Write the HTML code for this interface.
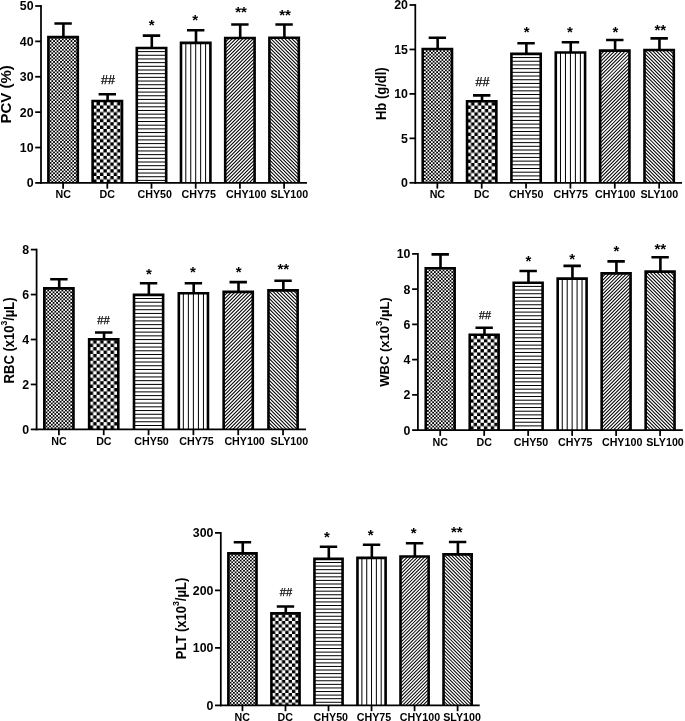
<!DOCTYPE html>
<html><head><meta charset="utf-8"><style>
html,body{margin:0;padding:0;background:#fff;width:685px;height:721px;overflow:hidden}
svg{display:block;will-change:transform}
svg,text,tspan{font-family:"Liberation Sans", sans-serif;fill:#000}
</style></head><body>
<svg width="685" height="721" viewBox="0 0 685 721"><defs><pattern id="p00" patternUnits="userSpaceOnUse" width="3.48" height="3.48" patternTransform="translate(49.7,38.45)"><rect width="3.48" height="3.48" fill="#fff"/><rect x="1.74" width="1.74" height="1.74" fill="#000"/><rect y="1.74" width="1.74" height="1.74" fill="#000"/></pattern>
<pattern id="p01" patternUnits="userSpaceOnUse" width="6.86" height="6.72" patternTransform="translate(93.1,102.05)"><rect width="6.86" height="6.72" fill="#fff"/><rect x="3.43" width="3.43" height="3.36" fill="#000"/><rect y="3.36" width="3.43" height="3.36" fill="#000"/></pattern>
<clipPath id="c04"><rect x="225.2" y="37.95" width="29.4" height="144.95"/></clipPath>
<clipPath id="c05"><rect x="269.4" y="37.75" width="29.4" height="145.15"/></clipPath>
<pattern id="p10" patternUnits="userSpaceOnUse" width="3.5" height="3.5" patternTransform="translate(424,50.25)"><rect width="3.5" height="3.5" fill="#fff"/><rect x="1.75" width="1.75" height="1.75" fill="#000"/><rect y="1.75" width="1.75" height="1.75" fill="#000"/></pattern>
<pattern id="p11" patternUnits="userSpaceOnUse" width="6.89" height="6.75" patternTransform="translate(467.56,102.2)"><rect width="6.89" height="6.75" fill="#fff"/><rect x="3.45" width="3.45" height="3.38" fill="#000"/><rect y="3.38" width="3.45" height="3.38" fill="#000"/></pattern>
<clipPath id="c14"><rect x="600.14" y="50.65" width="29.3" height="132.15"/></clipPath>
<clipPath id="c15"><rect x="644.5" y="49.95" width="29.3" height="132.85"/></clipPath>
<pattern id="p20" patternUnits="userSpaceOnUse" width="3.53" height="3.53" patternTransform="translate(45.62,289.65)"><rect width="3.53" height="3.53" fill="#fff"/><rect x="1.77" width="1.77" height="1.77" fill="#000"/><rect y="1.77" width="1.77" height="1.77" fill="#000"/></pattern>
<pattern id="p21" patternUnits="userSpaceOnUse" width="6.96" height="6.82" patternTransform="translate(89.65,340.3)"><rect width="6.96" height="6.82" fill="#fff"/><rect x="3.48" width="3.48" height="3.41" fill="#000"/><rect y="3.41" width="3.48" height="3.41" fill="#000"/></pattern>
<clipPath id="c24"><rect x="223.65" y="291.85" width="29.15" height="137.55"/></clipPath>
<clipPath id="c25"><rect x="268.47" y="290.35" width="29.15" height="139.05"/></clipPath>
<pattern id="p30" patternUnits="userSpaceOnUse" width="3.47" height="3.47" patternTransform="translate(427.05,269.5)"><rect width="3.47" height="3.47" fill="#fff"/><rect x="1.74" width="1.74" height="1.74" fill="#000"/><rect y="1.74" width="1.74" height="1.74" fill="#000"/></pattern>
<pattern id="p31" patternUnits="userSpaceOnUse" width="6.84" height="6.7" patternTransform="translate(470.23,335.7)"><rect width="6.84" height="6.7" fill="#fff"/><rect x="3.42" width="3.42" height="3.35" fill="#000"/><rect y="3.35" width="3.42" height="3.35" fill="#000"/></pattern>
<clipPath id="c34"><rect x="601.67" y="273.35" width="28.9" height="156.75"/></clipPath>
<clipPath id="c35"><rect x="645.65" y="271.65" width="28.9" height="158.45"/></clipPath>
<pattern id="p40" patternUnits="userSpaceOnUse" width="3.39" height="3.39" patternTransform="translate(229.67,554.65)"><rect width="3.39" height="3.39" fill="#fff"/><rect x="1.69" width="1.69" height="1.69" fill="#000"/><rect y="1.69" width="1.69" height="1.69" fill="#000"/></pattern>
<pattern id="p41" patternUnits="userSpaceOnUse" width="6.68" height="6.55" patternTransform="translate(271.91,614.4)"><rect width="6.68" height="6.55" fill="#fff"/><rect x="3.34" width="3.34" height="3.27" fill="#000"/><rect y="3.27" width="3.34" height="3.27" fill="#000"/></pattern>
<clipPath id="c44"><rect x="400.5" y="556.45" width="28.15" height="148.95"/></clipPath>
<clipPath id="c45"><rect x="443.53" y="554.35" width="28.15" height="151.05"/></clipPath></defs>
<g><path d="M63.4 36.85V23.5M54.4 23.5H71.8" stroke="#000" stroke-width="2.6"/><rect x="48.4" y="37.15" width="29.4" height="145.75" fill="url(#p00)"/><path d="M48.4 182.9V37.15H77.8V182.9" fill="none" stroke="#000" stroke-width="2.6"/><line x1="63.1" y1="182.9" x2="63.1" y2="188.7" stroke="#000" stroke-width="1.75"/><text x="63.25" y="198.2" text-anchor="middle" font-size="10.7" font-weight="bold">NC</text><path d="M107.6 100.75V94.2M98.6 94.2H116" stroke="#000" stroke-width="2.6"/><rect x="92.6" y="101.05" width="29.4" height="81.85" fill="url(#p01)"/><path d="M92.6 182.9V101.05H122V182.9" fill="none" stroke="#000" stroke-width="2.6"/><text x="108" y="84.4" text-anchor="middle" font-size="12.5" stroke="#000" stroke-width="0.25">##</text><line x1="107.3" y1="182.9" x2="107.3" y2="188.7" stroke="#000" stroke-width="1.75"/><text x="107.3" y="198.2" text-anchor="middle" font-size="10.7" font-weight="bold">DC</text><path d="M151.8 47.65V35.6M142.8 35.6H160.2" stroke="#000" stroke-width="2.6"/><rect x="136.8" y="47.95" width="29.4" height="134.95" fill="#fff"/><path d="M136.5 51.6H166.5M136.5 55.28H166.5M136.5 58.96H166.5M136.5 62.64H166.5M136.5 66.32H166.5M136.5 70H166.5M136.5 73.68H166.5M136.5 77.36H166.5M136.5 81.04H166.5M136.5 84.72H166.5M136.5 88.4H166.5M136.5 92.08H166.5M136.5 95.76H166.5M136.5 99.44H166.5M136.5 103.12H166.5M136.5 106.8H166.5M136.5 110.48H166.5M136.5 114.16H166.5M136.5 117.84H166.5M136.5 121.52H166.5M136.5 125.2H166.5M136.5 128.88H166.5M136.5 132.56H166.5M136.5 136.24H166.5M136.5 139.92H166.5M136.5 143.6H166.5M136.5 147.28H166.5M136.5 150.96H166.5M136.5 154.64H166.5M136.5 158.32H166.5M136.5 162H166.5M136.5 165.68H166.5M136.5 169.36H166.5M136.5 173.04H166.5M136.5 176.72H166.5M136.5 180.4H166.5" stroke="#000" stroke-width="1.0" fill="none"/><path d="M136.8 182.9V47.95H166.2V182.9" fill="none" stroke="#000" stroke-width="2.6"/><text x="151.65" y="29.7" text-anchor="middle" font-size="15" font-weight="bold">*</text><line x1="151.5" y1="182.9" x2="151.5" y2="188.7" stroke="#000" stroke-width="1.75"/><text x="154.75" y="198.2" text-anchor="middle" font-size="10.7" font-weight="bold">CHY50</text><path d="M196 42.55V30.2M187 30.2H204.4" stroke="#000" stroke-width="2.6"/><rect x="181" y="42.85" width="29.4" height="140.05" fill="#fff"/><path d="M185.8 42.55V182.9M190.75 42.55V182.9M195.7 42.55V182.9M200.65 42.55V182.9M205.6 42.55V182.9" stroke="#000" stroke-width="1.0" fill="none"/><path d="M181 182.9V42.85H210.4V182.9" fill="none" stroke="#000" stroke-width="2.6"/><text x="195.05" y="25.2" text-anchor="middle" font-size="15" font-weight="bold">*</text><line x1="195.7" y1="182.9" x2="195.7" y2="188.7" stroke="#000" stroke-width="1.75"/><text x="198.7" y="198.2" text-anchor="middle" font-size="10.7" font-weight="bold">CHY75</text><path d="M240.2 37.65V24.5M231.2 24.5H248.6" stroke="#000" stroke-width="2.6"/><rect x="225.2" y="37.95" width="29.4" height="144.95" fill="#fff"/><path clip-path="url(#c04)" d="M223.9 36.65L255.9 4.65M223.9 40.15L255.9 8.15M223.9 43.65L255.9 11.65M223.9 47.15L255.9 15.15M223.9 50.65L255.9 18.65M223.9 54.15L255.9 22.15M223.9 57.65L255.9 25.65M223.9 61.15L255.9 29.15M223.9 64.65L255.9 32.65M223.9 68.15L255.9 36.15M223.9 71.65L255.9 39.65M223.9 75.15L255.9 43.15M223.9 78.65L255.9 46.65M223.9 82.15L255.9 50.15M223.9 85.65L255.9 53.65M223.9 89.15L255.9 57.15M223.9 92.65L255.9 60.65M223.9 96.15L255.9 64.15M223.9 99.65L255.9 67.65M223.9 103.15L255.9 71.15M223.9 106.65L255.9 74.65M223.9 110.15L255.9 78.15M223.9 113.65L255.9 81.65M223.9 117.15L255.9 85.15M223.9 120.65L255.9 88.65M223.9 124.15L255.9 92.15M223.9 127.65L255.9 95.65M223.9 131.15L255.9 99.15M223.9 134.65L255.9 102.65M223.9 138.15L255.9 106.15M223.9 141.65L255.9 109.65M223.9 145.15L255.9 113.15M223.9 148.65L255.9 116.65M223.9 152.15L255.9 120.15M223.9 155.65L255.9 123.65M223.9 159.15L255.9 127.15M223.9 162.65L255.9 130.65M223.9 166.15L255.9 134.15M223.9 169.65L255.9 137.65M223.9 173.15L255.9 141.15M223.9 176.65L255.9 144.65M223.9 180.15L255.9 148.15M223.9 183.65L255.9 151.65M223.9 187.15L255.9 155.15M223.9 190.65L255.9 158.65M223.9 194.15L255.9 162.15M223.9 197.65L255.9 165.65M223.9 201.15L255.9 169.15M223.9 204.65L255.9 172.65M223.9 208.15L255.9 176.15M223.9 211.65L255.9 179.65M223.9 215.15L255.9 183.15" stroke="#000" stroke-width="1.04" fill="none"/><path d="M225.2 182.9V37.95H254.6V182.9" fill="none" stroke="#000" stroke-width="2.6"/><text x="241" y="17.1" text-anchor="middle" font-size="15" font-weight="bold">**</text><line x1="239.9" y1="182.9" x2="239.9" y2="188.7" stroke="#000" stroke-width="1.75"/><text x="246.2" y="198.2" text-anchor="middle" font-size="10.7" font-weight="bold">CHY100</text><path d="M284.4 37.45V24.5M275.4 24.5H292.8" stroke="#000" stroke-width="2.6"/><rect x="269.4" y="37.75" width="29.4" height="145.15" fill="#fff"/><path clip-path="url(#c05)" d="M268.1 4.45L300.1 36.45M268.1 7.95L300.1 39.95M268.1 11.45L300.1 43.45M268.1 14.95L300.1 46.95M268.1 18.45L300.1 50.45M268.1 21.95L300.1 53.95M268.1 25.45L300.1 57.45M268.1 28.95L300.1 60.95M268.1 32.45L300.1 64.45M268.1 35.95L300.1 67.95M268.1 39.45L300.1 71.45M268.1 42.95L300.1 74.95M268.1 46.45L300.1 78.45M268.1 49.95L300.1 81.95M268.1 53.45L300.1 85.45M268.1 56.95L300.1 88.95M268.1 60.45L300.1 92.45M268.1 63.95L300.1 95.95M268.1 67.45L300.1 99.45M268.1 70.95L300.1 102.95M268.1 74.45L300.1 106.45M268.1 77.95L300.1 109.95M268.1 81.45L300.1 113.45M268.1 84.95L300.1 116.95M268.1 88.45L300.1 120.45M268.1 91.95L300.1 123.95M268.1 95.45L300.1 127.45M268.1 98.95L300.1 130.95M268.1 102.45L300.1 134.45M268.1 105.95L300.1 137.95M268.1 109.45L300.1 141.45M268.1 112.95L300.1 144.95M268.1 116.45L300.1 148.45M268.1 119.95L300.1 151.95M268.1 123.45L300.1 155.45M268.1 126.95L300.1 158.95M268.1 130.45L300.1 162.45M268.1 133.95L300.1 165.95M268.1 137.45L300.1 169.45M268.1 140.95L300.1 172.95M268.1 144.45L300.1 176.45M268.1 147.95L300.1 179.95M268.1 151.45L300.1 183.45M268.1 154.95L300.1 186.95M268.1 158.45L300.1 190.45M268.1 161.95L300.1 193.95M268.1 165.45L300.1 197.45M268.1 168.95L300.1 200.95M268.1 172.45L300.1 204.45M268.1 175.95L300.1 207.95M268.1 179.45L300.1 211.45M268.1 182.95L300.1 214.95" stroke="#000" stroke-width="1.04" fill="none"/><path d="M269.4 182.9V37.75H298.8V182.9" fill="none" stroke="#000" stroke-width="2.6"/><text x="285.05" y="20.1" text-anchor="middle" font-size="15" font-weight="bold">**</text><line x1="284.1" y1="182.9" x2="284.1" y2="188.7" stroke="#000" stroke-width="1.75"/><text x="289.3" y="198.2" text-anchor="middle" font-size="10.7" font-weight="bold">SLY100</text><line x1="41" y1="5.12" x2="41" y2="183.78" stroke="#000" stroke-width="1.75"/><line x1="40.12" y1="182.9" x2="307" y2="182.9" stroke="#000" stroke-width="1.75"/><line x1="35.2" y1="182.9" x2="41" y2="182.9" stroke="#000" stroke-width="1.75"/><text transform="translate(33.6,187.3) scale(0.93,1)" text-anchor="end" font-size="13.3" font-weight="bold">0</text><line x1="35.2" y1="147.52" x2="41" y2="147.52" stroke="#000" stroke-width="1.75"/><text transform="translate(33.6,151.92) scale(0.93,1)" text-anchor="end" font-size="13.3" font-weight="bold">10</text><line x1="35.2" y1="112.14" x2="41" y2="112.14" stroke="#000" stroke-width="1.75"/><text transform="translate(33.6,116.54) scale(0.93,1)" text-anchor="end" font-size="13.3" font-weight="bold">20</text><line x1="35.2" y1="76.76" x2="41" y2="76.76" stroke="#000" stroke-width="1.75"/><text transform="translate(33.6,81.16) scale(0.93,1)" text-anchor="end" font-size="13.3" font-weight="bold">30</text><line x1="35.2" y1="41.38" x2="41" y2="41.38" stroke="#000" stroke-width="1.75"/><text transform="translate(33.6,45.78) scale(0.93,1)" text-anchor="end" font-size="13.3" font-weight="bold">40</text><line x1="35.2" y1="6" x2="41" y2="6" stroke="#000" stroke-width="1.75"/><text transform="translate(33.6,10.4) scale(0.93,1)" text-anchor="end" font-size="13.3" font-weight="bold">50</text><text transform="translate(11.1,94.4) rotate(-90) scale(0.985,1)" text-anchor="middle" font-size="15.2" font-weight="bold">PCV (%)</text></g>
<g><path d="M437.65 48.65V37.8M428.65 37.8H446.05" stroke="#000" stroke-width="2.6"/><rect x="422.7" y="48.95" width="29.3" height="133.85" fill="url(#p10)"/><path d="M422.7 182.8V48.95H452V182.8" fill="none" stroke="#000" stroke-width="2.6"/><line x1="437.35" y1="182.8" x2="437.35" y2="188.6" stroke="#000" stroke-width="1.75"/><text x="437.35" y="198.3" text-anchor="middle" font-size="10.7" font-weight="bold">NC</text><path d="M482.01 100.9V95.4M473.01 95.4H490.41" stroke="#000" stroke-width="2.6"/><rect x="467.06" y="101.2" width="29.3" height="81.6" fill="url(#p11)"/><path d="M467.06 182.8V101.2H496.36V182.8" fill="none" stroke="#000" stroke-width="2.6"/><text x="482.45" y="85.9" text-anchor="middle" font-size="12.5" stroke="#000" stroke-width="0.25">##</text><line x1="481.71" y1="182.8" x2="481.71" y2="188.6" stroke="#000" stroke-width="1.75"/><text x="481.8" y="198.3" text-anchor="middle" font-size="10.7" font-weight="bold">DC</text><path d="M526.37 53.6V43.3M517.37 43.3H534.77" stroke="#000" stroke-width="2.6"/><rect x="511.42" y="53.9" width="29.3" height="128.9" fill="#fff"/><path d="M511.12 57.55H541.02M511.12 61.25H541.02M511.12 64.95H541.02M511.12 68.65H541.02M511.12 72.34H541.02M511.12 76.04H541.02M511.12 79.74H541.02M511.12 83.44H541.02M511.12 87.14H541.02M511.12 90.84H541.02M511.12 94.53H541.02M511.12 98.23H541.02M511.12 101.93H541.02M511.12 105.63H541.02M511.12 109.33H541.02M511.12 113.03H541.02M511.12 116.72H541.02M511.12 120.42H541.02M511.12 124.12H541.02M511.12 127.82H541.02M511.12 131.52H541.02M511.12 135.22H541.02M511.12 138.91H541.02M511.12 142.61H541.02M511.12 146.31H541.02M511.12 150.01H541.02M511.12 153.71H541.02M511.12 157.41H541.02M511.12 161.11H541.02M511.12 164.8H541.02M511.12 168.5H541.02M511.12 172.2H541.02M511.12 175.9H541.02M511.12 179.6H541.02" stroke="#000" stroke-width="1.0" fill="none"/><path d="M511.42 182.8V53.9H540.72V182.8" fill="none" stroke="#000" stroke-width="2.6"/><text x="526.55" y="37" text-anchor="middle" font-size="15" font-weight="bold">*</text><line x1="526.07" y1="182.8" x2="526.07" y2="188.6" stroke="#000" stroke-width="1.75"/><text x="526.25" y="198.3" text-anchor="middle" font-size="10.7" font-weight="bold">CHY50</text><path d="M570.73 52.15V42.3M561.73 42.3H579.13" stroke="#000" stroke-width="2.6"/><rect x="555.78" y="52.45" width="29.3" height="130.35" fill="#fff"/><path d="M560.48 52.15V182.8M565.46 52.15V182.8M570.43 52.15V182.8M575.4 52.15V182.8M580.38 52.15V182.8" stroke="#000" stroke-width="1.0" fill="none"/><path d="M555.78 182.8V52.45H585.08V182.8" fill="none" stroke="#000" stroke-width="2.6"/><text x="569.8" y="37" text-anchor="middle" font-size="15" font-weight="bold">*</text><line x1="570.43" y1="182.8" x2="570.43" y2="188.6" stroke="#000" stroke-width="1.75"/><text x="570.65" y="198.3" text-anchor="middle" font-size="10.7" font-weight="bold">CHY75</text><path d="M615.09 50.35V40M606.09 40H623.49" stroke="#000" stroke-width="2.6"/><rect x="600.14" y="50.65" width="29.3" height="132.15" fill="#fff"/><path clip-path="url(#c14)" d="M598.84 49.35L630.74 17.45M598.84 52.87L630.74 20.97M598.84 56.39L630.74 24.49M598.84 59.9L630.74 28M598.84 63.42L630.74 31.52M598.84 66.94L630.74 35.04M598.84 70.46L630.74 38.56M598.84 73.97L630.74 42.07M598.84 77.49L630.74 45.59M598.84 81.01L630.74 49.11M598.84 84.53L630.74 52.63M598.84 88.04L630.74 56.14M598.84 91.56L630.74 59.66M598.84 95.08L630.74 63.18M598.84 98.6L630.74 66.7M598.84 102.11L630.74 70.21M598.84 105.63L630.74 73.73M598.84 109.15L630.74 77.25M598.84 112.67L630.74 80.77M598.84 116.18L630.74 84.28M598.84 119.7L630.74 87.8M598.84 123.22L630.74 91.32M598.84 126.74L630.74 94.84M598.84 130.25L630.74 98.35M598.84 133.77L630.74 101.87M598.84 137.29L630.74 105.39M598.84 140.81L630.74 108.91M598.84 144.32L630.74 112.42M598.84 147.84L630.74 115.94M598.84 151.36L630.74 119.46M598.84 154.88L630.74 122.98M598.84 158.39L630.74 126.49M598.84 161.91L630.74 130.01M598.84 165.43L630.74 133.53M598.84 168.95L630.74 137.05M598.84 172.46L630.74 140.56M598.84 175.98L630.74 144.08M598.84 179.5L630.74 147.6M598.84 183.02L630.74 151.12M598.84 186.53L630.74 154.63M598.84 190.05L630.74 158.15M598.84 193.57L630.74 161.67M598.84 197.09L630.74 165.19M598.84 200.6L630.74 168.7M598.84 204.12L630.74 172.22M598.84 207.64L630.74 175.74M598.84 211.16L630.74 179.26M598.84 214.67L630.74 182.77M598.84 218.19L630.74 186.29" stroke="#000" stroke-width="1.04" fill="none"/><path d="M600.14 182.8V50.65H629.44V182.8" fill="none" stroke="#000" stroke-width="2.6"/><text x="615.45" y="36.5" text-anchor="middle" font-size="15" font-weight="bold">*</text><line x1="614.79" y1="182.8" x2="614.79" y2="188.6" stroke="#000" stroke-width="1.75"/><text x="615.15" y="198.3" text-anchor="middle" font-size="10.7" font-weight="bold">CHY100</text><path d="M659.45 49.65V38.4M650.45 38.4H667.85" stroke="#000" stroke-width="2.6"/><rect x="644.5" y="49.95" width="29.3" height="132.85" fill="#fff"/><path clip-path="url(#c15)" d="M643.2 16.75L675.1 48.65M643.2 20.27L675.1 52.17M643.2 23.78L675.1 55.69M643.2 27.3L675.1 59.2M643.2 30.82L675.1 62.72M643.2 34.34L675.1 66.24M643.2 37.86L675.1 69.76M643.2 41.37L675.1 73.27M643.2 44.89L675.1 76.79M643.2 48.41L675.1 80.31M643.2 51.93L675.1 83.83M643.2 55.44L675.1 87.34M643.2 58.96L675.1 90.86M643.2 62.48L675.1 94.38M643.2 66L675.1 97.9M643.2 69.51L675.1 101.41M643.2 73.03L675.1 104.93M643.2 76.55L675.1 108.45M643.2 80.07L675.1 111.97M643.2 83.58L675.1 115.48M643.2 87.1L675.1 119M643.2 90.62L675.1 122.52M643.2 94.14L675.1 126.04M643.2 97.65L675.1 129.55M643.2 101.17L675.1 133.07M643.2 104.69L675.1 136.59M643.2 108.21L675.1 140.11M643.2 111.72L675.1 143.62M643.2 115.24L675.1 147.14M643.2 118.76L675.1 150.66M643.2 122.28L675.1 154.18M643.2 125.79L675.1 157.69M643.2 129.31L675.1 161.21M643.2 132.83L675.1 164.73M643.2 136.35L675.1 168.25M643.2 139.86L675.1 171.76M643.2 143.38L675.1 175.28M643.2 146.9L675.1 178.8M643.2 150.42L675.1 182.32M643.2 153.93L675.1 185.83M643.2 157.45L675.1 189.35M643.2 160.97L675.1 192.87M643.2 164.49L675.1 196.39M643.2 168L675.1 199.9M643.2 171.52L675.1 203.42M643.2 175.04L675.1 206.94M643.2 178.56L675.1 210.46M643.2 182.07L675.1 213.97M643.2 185.59L675.1 217.49" stroke="#000" stroke-width="1.04" fill="none"/><path d="M644.5 182.8V49.95H673.8V182.8" fill="none" stroke="#000" stroke-width="2.6"/><text x="660.35" y="34.5" text-anchor="middle" font-size="15" font-weight="bold">**</text><line x1="659.15" y1="182.8" x2="659.15" y2="188.6" stroke="#000" stroke-width="1.75"/><text x="659.3" y="198.3" text-anchor="middle" font-size="10.7" font-weight="bold">SLY100</text><line x1="415.3" y1="4.12" x2="415.3" y2="183.68" stroke="#000" stroke-width="1.75"/><line x1="414.43" y1="182.8" x2="682" y2="182.8" stroke="#000" stroke-width="1.75"/><line x1="409.5" y1="182.8" x2="415.3" y2="182.8" stroke="#000" stroke-width="1.75"/><text transform="translate(407.9,187.2) scale(0.93,1)" text-anchor="end" font-size="13.3" font-weight="bold">0</text><line x1="409.5" y1="138.35" x2="415.3" y2="138.35" stroke="#000" stroke-width="1.75"/><text transform="translate(407.9,142.75) scale(0.93,1)" text-anchor="end" font-size="13.3" font-weight="bold">5</text><line x1="409.5" y1="93.9" x2="415.3" y2="93.9" stroke="#000" stroke-width="1.75"/><text transform="translate(407.9,98.3) scale(0.93,1)" text-anchor="end" font-size="13.3" font-weight="bold">10</text><line x1="409.5" y1="49.45" x2="415.3" y2="49.45" stroke="#000" stroke-width="1.75"/><text transform="translate(407.9,53.85) scale(0.93,1)" text-anchor="end" font-size="13.3" font-weight="bold">15</text><line x1="409.5" y1="5" x2="415.3" y2="5" stroke="#000" stroke-width="1.75"/><text transform="translate(407.9,9.4) scale(0.93,1)" text-anchor="end" font-size="13.3" font-weight="bold">20</text><text transform="translate(386,93.7) rotate(-90) scale(0.935,1)" text-anchor="middle" font-size="13.9" font-weight="bold">Hb (g/dl)</text></g>
<g><path d="M59.2 288.05V279.2M50.2 279.2H67.6" stroke="#000" stroke-width="2.6"/><rect x="44.32" y="288.35" width="29.15" height="141.05" fill="url(#p20)"/><path d="M44.32 429.4V288.35H73.48V429.4" fill="none" stroke="#000" stroke-width="2.6"/><line x1="58.9" y1="429.4" x2="58.9" y2="435.2" stroke="#000" stroke-width="1.75"/><text x="58.9" y="445.3" text-anchor="middle" font-size="10.7" font-weight="bold">NC</text><path d="M104.03 339V332.5M95.03 332.5H112.43" stroke="#000" stroke-width="2.6"/><rect x="89.15" y="339.3" width="29.15" height="90.1" fill="url(#p21)"/><path d="M89.15 429.4V339.3H118.3V429.4" fill="none" stroke="#000" stroke-width="2.6"/><text x="103.5" y="324.49" text-anchor="middle" font-size="11.3" stroke="#000" stroke-width="0.25">##</text><line x1="103.73" y1="429.4" x2="103.73" y2="435.2" stroke="#000" stroke-width="1.75"/><text x="103.85" y="445.3" text-anchor="middle" font-size="10.7" font-weight="bold">DC</text><path d="M148.86 294.55V283.3M139.86 283.3H157.26" stroke="#000" stroke-width="2.6"/><rect x="133.99" y="294.85" width="29.15" height="134.55" fill="#fff"/><path d="M133.69 298.5H163.44M133.69 302.24H163.44M133.69 305.97H163.44M133.69 309.71H163.44M133.69 313.44H163.44M133.69 317.18H163.44M133.69 320.91H163.44M133.69 324.65H163.44M133.69 328.38H163.44M133.69 332.12H163.44M133.69 335.85H163.44M133.69 339.59H163.44M133.69 343.32H163.44M133.69 347.06H163.44M133.69 350.79H163.44M133.69 354.53H163.44M133.69 358.26H163.44M133.69 362H163.44M133.69 365.73H163.44M133.69 369.47H163.44M133.69 373.2H163.44M133.69 376.94H163.44M133.69 380.67H163.44M133.69 384.41H163.44M133.69 388.14H163.44M133.69 391.88H163.44M133.69 395.62H163.44M133.69 399.35H163.44M133.69 403.09H163.44M133.69 406.82H163.44M133.69 410.56H163.44M133.69 414.29H163.44M133.69 418.03H163.44M133.69 421.76H163.44M133.69 425.5H163.44" stroke="#000" stroke-width="1.0" fill="none"/><path d="M133.99 429.4V294.85H163.13V429.4" fill="none" stroke="#000" stroke-width="2.6"/><text x="148.85" y="278.8" text-anchor="middle" font-size="15" font-weight="bold">*</text><line x1="148.56" y1="429.4" x2="148.56" y2="435.2" stroke="#000" stroke-width="1.75"/><text x="151.6" y="445.3" text-anchor="middle" font-size="10.7" font-weight="bold">CHY50</text><path d="M193.69 292.95V283.3M184.69 283.3H202.09" stroke="#000" stroke-width="2.6"/><rect x="178.82" y="293.25" width="29.15" height="136.15" fill="#fff"/><path d="M183.34 292.95V429.4M188.37 292.95V429.4M193.39 292.95V429.4M198.41 292.95V429.4M203.44 292.95V429.4" stroke="#000" stroke-width="1.0" fill="none"/><path d="M178.82 429.4V293.25H207.97V429.4" fill="none" stroke="#000" stroke-width="2.6"/><text x="192.8" y="276.7" text-anchor="middle" font-size="15" font-weight="bold">*</text><line x1="193.39" y1="429.4" x2="193.39" y2="435.2" stroke="#000" stroke-width="1.75"/><text x="196.55" y="445.3" text-anchor="middle" font-size="10.7" font-weight="bold">CHY75</text><path d="M238.52 291.55V282.1M229.52 282.1H246.92" stroke="#000" stroke-width="2.6"/><rect x="223.65" y="291.85" width="29.15" height="137.55" fill="#fff"/><path clip-path="url(#c24)" d="M222.34 290.55L254.09 258.8M222.34 294.1L254.09 262.35M222.34 297.65L254.09 265.9M222.34 301.21L254.09 269.46M222.34 304.76L254.09 273.01M222.34 308.31L254.09 276.56M222.34 311.87L254.09 280.12M222.34 315.42L254.09 283.67M222.34 318.97L254.09 287.22M222.34 322.52L254.09 290.77M222.34 326.08L254.09 294.33M222.34 329.63L254.09 297.88M222.34 333.18L254.09 301.43M222.34 336.73L254.09 304.98M222.34 340.29L254.09 308.54M222.34 343.84L254.09 312.09M222.34 347.39L254.09 315.64M222.34 350.94L254.09 319.19M222.34 354.5L254.09 322.75M222.34 358.05L254.09 326.3M222.34 361.6L254.09 329.85M222.34 365.15L254.09 333.4M222.34 368.71L254.09 336.96M222.34 372.26L254.09 340.51M222.34 375.81L254.09 344.06M222.34 379.36L254.09 347.61M222.34 382.92L254.09 351.17M222.34 386.47L254.09 354.72M222.34 390.02L254.09 358.27M222.34 393.57L254.09 361.82M222.34 397.13L254.09 365.38M222.34 400.68L254.09 368.93M222.34 404.23L254.09 372.48M222.34 407.78L254.09 376.03M222.34 411.34L254.09 379.59M222.34 414.89L254.09 383.14M222.34 418.44L254.09 386.69M222.34 421.99L254.09 390.24M222.34 425.55L254.09 393.8M222.34 429.1L254.09 397.35M222.34 432.65L254.09 400.9M222.34 436.2L254.09 404.45M222.34 439.76L254.09 408.01M222.34 443.31L254.09 411.56M222.34 446.86L254.09 415.11M222.34 450.41L254.09 418.66M222.34 453.97L254.09 422.22M222.34 457.52L254.09 425.77M222.34 461.07L254.09 429.32M222.34 464.62L254.09 432.87" stroke="#000" stroke-width="1.06" fill="none"/><path d="M223.65 429.4V291.85H252.79V429.4" fill="none" stroke="#000" stroke-width="2.6"/><text x="238.55" y="277" text-anchor="middle" font-size="15" font-weight="bold">*</text><line x1="238.22" y1="429.4" x2="238.22" y2="435.2" stroke="#000" stroke-width="1.75"/><text x="244.6" y="445.3" text-anchor="middle" font-size="10.7" font-weight="bold">CHY100</text><path d="M283.35 290.05V280.7M274.35 280.7H291.75" stroke="#000" stroke-width="2.6"/><rect x="268.47" y="290.35" width="29.15" height="139.05" fill="#fff"/><path clip-path="url(#c25)" d="M267.17 257.3L298.92 289.05M267.17 260.85L298.92 292.6M267.17 264.4L298.92 296.15M267.17 267.96L298.92 299.71M267.17 271.51L298.92 303.26M267.17 275.06L298.92 306.81M267.17 278.61L298.92 310.36M267.17 282.17L298.92 313.92M267.17 285.72L298.92 317.47M267.17 289.27L298.92 321.02M267.17 292.82L298.92 324.57M267.17 296.38L298.92 328.13M267.17 299.93L298.92 331.68M267.17 303.48L298.92 335.23M267.17 307.03L298.92 338.78M267.17 310.59L298.92 342.34M267.17 314.14L298.92 345.89M267.17 317.69L298.92 349.44M267.17 321.24L298.92 352.99M267.17 324.8L298.92 356.55M267.17 328.35L298.92 360.1M267.17 331.9L298.92 363.65M267.17 335.45L298.92 367.2M267.17 339.01L298.92 370.76M267.17 342.56L298.92 374.31M267.17 346.11L298.92 377.86M267.17 349.66L298.92 381.41M267.17 353.22L298.92 384.97M267.17 356.77L298.92 388.52M267.17 360.32L298.92 392.07M267.17 363.87L298.92 395.62M267.17 367.43L298.92 399.18M267.17 370.98L298.92 402.73M267.17 374.53L298.92 406.28M267.17 378.08L298.92 409.83M267.17 381.64L298.92 413.39M267.17 385.19L298.92 416.94M267.17 388.74L298.92 420.49M267.17 392.29L298.92 424.04M267.17 395.85L298.92 427.6M267.17 399.4L298.92 431.15M267.17 402.95L298.92 434.7M267.17 406.5L298.92 438.25M267.17 410.06L298.92 441.81M267.17 413.61L298.92 445.36M267.17 417.16L298.92 448.91M267.17 420.71L298.92 452.46M267.17 424.27L298.92 456.02M267.17 427.82L298.92 459.57M267.17 431.37L298.92 463.12" stroke="#000" stroke-width="1.06" fill="none"/><path d="M268.47 429.4V290.35H297.62V429.4" fill="none" stroke="#000" stroke-width="2.6"/><text x="283.3" y="274.2" text-anchor="middle" font-size="15" font-weight="bold">**</text><line x1="283.05" y1="429.4" x2="283.05" y2="435.2" stroke="#000" stroke-width="1.75"/><text x="289.35" y="445.3" text-anchor="middle" font-size="10.7" font-weight="bold">SLY100</text><line x1="36.6" y1="248.72" x2="36.6" y2="430.27" stroke="#000" stroke-width="1.75"/><line x1="35.73" y1="429.4" x2="306" y2="429.4" stroke="#000" stroke-width="1.75"/><line x1="30.8" y1="429.4" x2="36.6" y2="429.4" stroke="#000" stroke-width="1.75"/><text transform="translate(29.2,433.8) scale(0.93,1)" text-anchor="end" font-size="13.3" font-weight="bold">0</text><line x1="30.8" y1="384.45" x2="36.6" y2="384.45" stroke="#000" stroke-width="1.75"/><text transform="translate(29.2,388.85) scale(0.93,1)" text-anchor="end" font-size="13.3" font-weight="bold">2</text><line x1="30.8" y1="339.5" x2="36.6" y2="339.5" stroke="#000" stroke-width="1.75"/><text transform="translate(29.2,343.9) scale(0.93,1)" text-anchor="end" font-size="13.3" font-weight="bold">4</text><line x1="30.8" y1="294.55" x2="36.6" y2="294.55" stroke="#000" stroke-width="1.75"/><text transform="translate(29.2,298.95) scale(0.93,1)" text-anchor="end" font-size="13.3" font-weight="bold">6</text><line x1="30.8" y1="249.6" x2="36.6" y2="249.6" stroke="#000" stroke-width="1.75"/><text transform="translate(29.2,254) scale(0.93,1)" text-anchor="end" font-size="13.3" font-weight="bold">8</text><text transform="translate(13.9,340.4) rotate(-90) scale(0.91,1)" text-anchor="middle" font-size="14.3" font-weight="bold">RBC (x10<tspan dy="-6.6" font-size="9.5">3</tspan><tspan dy="6.6">/µL)</tspan></text></g>
<g><path d="M440.5 267.9V254.4M431.5 254.4H448.9" stroke="#000" stroke-width="2.6"/><rect x="425.75" y="268.2" width="28.9" height="161.9" fill="url(#p30)"/><path d="M425.75 430.1V268.2H454.65V430.1" fill="none" stroke="#000" stroke-width="2.6"/><line x1="440.2" y1="430.1" x2="440.2" y2="435.9" stroke="#000" stroke-width="1.75"/><text x="440.15" y="445.5" text-anchor="middle" font-size="10.7" font-weight="bold">NC</text><path d="M484.48 334.4V327.8M475.48 327.8H492.88" stroke="#000" stroke-width="2.6"/><rect x="469.73" y="334.7" width="28.9" height="95.4" fill="url(#p31)"/><path d="M469.73 430.1V334.7H498.63V430.1" fill="none" stroke="#000" stroke-width="2.6"/><text x="484.9" y="319.21" text-anchor="middle" font-size="10.8" stroke="#000" stroke-width="0.25">##</text><line x1="484.18" y1="430.1" x2="484.18" y2="435.9" stroke="#000" stroke-width="1.75"/><text x="484.25" y="445.5" text-anchor="middle" font-size="10.7" font-weight="bold">DC</text><path d="M528.46 282.45V271M519.46 271H536.86" stroke="#000" stroke-width="2.6"/><rect x="513.71" y="282.75" width="28.9" height="147.35" fill="#fff"/><path d="M513.41 286.4H542.91M513.41 290.07H542.91M513.41 293.74H542.91M513.41 297.41H542.91M513.41 301.08H542.91M513.41 304.75H542.91M513.41 308.42H542.91M513.41 312.1H542.91M513.41 315.77H542.91M513.41 319.44H542.91M513.41 323.11H542.91M513.41 326.78H542.91M513.41 330.45H542.91M513.41 334.12H542.91M513.41 337.79H542.91M513.41 341.46H542.91M513.41 345.13H542.91M513.41 348.8H542.91M513.41 352.47H542.91M513.41 356.15H542.91M513.41 359.82H542.91M513.41 363.49H542.91M513.41 367.16H542.91M513.41 370.83H542.91M513.41 374.5H542.91M513.41 378.17H542.91M513.41 381.84H542.91M513.41 385.51H542.91M513.41 389.18H542.91M513.41 392.85H542.91M513.41 396.52H542.91M513.41 400.19H542.91M513.41 403.87H542.91M513.41 407.54H542.91M513.41 411.21H542.91M513.41 414.88H542.91M513.41 418.55H542.91M513.41 422.22H542.91M513.41 425.89H542.91M513.41 429.56H542.91" stroke="#000" stroke-width="1.0" fill="none"/><path d="M513.71 430.1V282.75H542.61V430.1" fill="none" stroke="#000" stroke-width="2.6"/><text x="528.35" y="265.7" text-anchor="middle" font-size="15" font-weight="bold">*</text><line x1="528.16" y1="430.1" x2="528.16" y2="435.9" stroke="#000" stroke-width="1.75"/><text x="530.95" y="445.5" text-anchor="middle" font-size="10.7" font-weight="bold">CHY50</text><path d="M572.44 278.35V265.9M563.44 265.9H580.84" stroke="#000" stroke-width="2.6"/><rect x="557.69" y="278.65" width="28.9" height="151.45" fill="#fff"/><path d="M562.26 278.35V430.1M567.2 278.35V430.1M572.14 278.35V430.1M577.08 278.35V430.1M582.02 278.35V430.1" stroke="#000" stroke-width="1.0" fill="none"/><path d="M557.69 430.1V278.65H586.59V430.1" fill="none" stroke="#000" stroke-width="2.6"/><text x="572.2" y="264.1" text-anchor="middle" font-size="15" font-weight="bold">*</text><line x1="572.14" y1="430.1" x2="572.14" y2="435.9" stroke="#000" stroke-width="1.75"/><text x="575.35" y="445.5" text-anchor="middle" font-size="10.7" font-weight="bold">CHY75</text><path d="M616.42 273.05V261.4M607.42 261.4H624.82" stroke="#000" stroke-width="2.6"/><rect x="601.67" y="273.35" width="28.9" height="156.75" fill="#fff"/><path clip-path="url(#c34)" d="M600.37 272.05L631.87 240.55M600.37 275.54L631.87 244.04M600.37 279.03L631.87 247.53M600.37 282.52L631.87 251.02M600.37 286.02L631.87 254.52M600.37 289.51L631.87 258.01M600.37 293L631.87 261.5M600.37 296.49L631.87 264.99M600.37 299.98L631.87 268.48M600.37 303.47L631.87 271.97M600.37 306.96L631.87 275.46M600.37 310.45L631.87 278.95M600.37 313.95L631.87 282.45M600.37 317.44L631.87 285.94M600.37 320.93L631.87 289.43M600.37 324.42L631.87 292.92M600.37 327.91L631.87 296.41M600.37 331.4L631.87 299.9M600.37 334.89L631.87 303.39M600.37 338.38L631.87 306.88M600.37 341.88L631.87 310.38M600.37 345.37L631.87 313.87M600.37 348.86L631.87 317.36M600.37 352.35L631.87 320.85M600.37 355.84L631.87 324.34M600.37 359.33L631.87 327.83M600.37 362.82L631.87 331.32M600.37 366.31L631.87 334.81M600.37 369.81L631.87 338.31M600.37 373.3L631.87 341.8M600.37 376.79L631.87 345.29M600.37 380.28L631.87 348.78M600.37 383.77L631.87 352.27M600.37 387.26L631.87 355.76M600.37 390.75L631.87 359.25M600.37 394.24L631.87 362.74M600.37 397.74L631.87 366.24M600.37 401.23L631.87 369.73M600.37 404.72L631.87 373.22M600.37 408.21L631.87 376.71M600.37 411.7L631.87 380.2M600.37 415.19L631.87 383.69M600.37 418.68L631.87 387.18M600.37 422.17L631.87 390.67M600.37 425.67L631.87 394.17M600.37 429.16L631.87 397.66M600.37 432.65L631.87 401.15M600.37 436.14L631.87 404.64M600.37 439.63L631.87 408.13M600.37 443.12L631.87 411.62M600.37 446.61L631.87 415.11M600.37 450.1L631.87 418.6M600.37 453.6L631.87 422.1M600.37 457.09L631.87 425.59M600.37 460.58L631.87 429.08M600.37 464.07L631.87 432.57" stroke="#000" stroke-width="1.04" fill="none"/><path d="M601.67 430.1V273.35H630.57V430.1" fill="none" stroke="#000" stroke-width="2.6"/><text x="616.35" y="256.4" text-anchor="middle" font-size="15" font-weight="bold">*</text><line x1="616.12" y1="430.1" x2="616.12" y2="435.9" stroke="#000" stroke-width="1.75"/><text x="622.15" y="445.5" text-anchor="middle" font-size="10.7" font-weight="bold">CHY100</text><path d="M660.4 271.35V257.3M651.4 257.3H668.8" stroke="#000" stroke-width="2.6"/><rect x="645.65" y="271.65" width="28.9" height="158.45" fill="#fff"/><path clip-path="url(#c35)" d="M644.35 238.85L675.85 270.35M644.35 242.34L675.85 273.84M644.35 245.83L675.85 277.33M644.35 249.32L675.85 280.82M644.35 252.81L675.85 284.31M644.35 256.31L675.85 287.81M644.35 259.8L675.85 291.3M644.35 263.29L675.85 294.79M644.35 266.78L675.85 298.28M644.35 270.27L675.85 301.77M644.35 273.76L675.85 305.26M644.35 277.25L675.85 308.75M644.35 280.74L675.85 312.24M644.35 284.24L675.85 315.74M644.35 287.73L675.85 319.23M644.35 291.22L675.85 322.72M644.35 294.71L675.85 326.21M644.35 298.2L675.85 329.7M644.35 301.69L675.85 333.19M644.35 305.18L675.85 336.68M644.35 308.67L675.85 340.17M644.35 312.17L675.85 343.67M644.35 315.66L675.85 347.16M644.35 319.15L675.85 350.65M644.35 322.64L675.85 354.14M644.35 326.13L675.85 357.63M644.35 329.62L675.85 361.12M644.35 333.11L675.85 364.61M644.35 336.6L675.85 368.1M644.35 340.1L675.85 371.6M644.35 343.59L675.85 375.09M644.35 347.08L675.85 378.58M644.35 350.57L675.85 382.07M644.35 354.06L675.85 385.56M644.35 357.55L675.85 389.05M644.35 361.04L675.85 392.54M644.35 364.53L675.85 396.03M644.35 368.03L675.85 399.53M644.35 371.52L675.85 403.02M644.35 375.01L675.85 406.51M644.35 378.5L675.85 410M644.35 381.99L675.85 413.49M644.35 385.48L675.85 416.98M644.35 388.97L675.85 420.47M644.35 392.46L675.85 423.96M644.35 395.96L675.85 427.46M644.35 399.45L675.85 430.95M644.35 402.94L675.85 434.44M644.35 406.43L675.85 437.93M644.35 409.92L675.85 441.42M644.35 413.41L675.85 444.91M644.35 416.9L675.85 448.4M644.35 420.39L675.85 451.89M644.35 423.89L675.85 455.39M644.35 427.38L675.85 458.88M644.35 430.87L675.85 462.37" stroke="#000" stroke-width="1.04" fill="none"/><path d="M645.65 430.1V271.65H674.55V430.1" fill="none" stroke="#000" stroke-width="2.6"/><text x="660.3" y="254.1" text-anchor="middle" font-size="15" font-weight="bold">**</text><line x1="660.1" y1="430.1" x2="660.1" y2="435.9" stroke="#000" stroke-width="1.75"/><text x="665" y="445.5" text-anchor="middle" font-size="10.7" font-weight="bold">SLY100</text><line x1="417.9" y1="253.03" x2="417.9" y2="430.98" stroke="#000" stroke-width="1.75"/><line x1="417.02" y1="430.1" x2="682.8" y2="430.1" stroke="#000" stroke-width="1.75"/><line x1="412.1" y1="430.1" x2="417.9" y2="430.1" stroke="#000" stroke-width="1.75"/><text transform="translate(410.5,434.5) scale(0.93,1)" text-anchor="end" font-size="13.3" font-weight="bold">0</text><line x1="412.1" y1="394.86" x2="417.9" y2="394.86" stroke="#000" stroke-width="1.75"/><text transform="translate(410.5,399.26) scale(0.93,1)" text-anchor="end" font-size="13.3" font-weight="bold">2</text><line x1="412.1" y1="359.62" x2="417.9" y2="359.62" stroke="#000" stroke-width="1.75"/><text transform="translate(410.5,364.02) scale(0.93,1)" text-anchor="end" font-size="13.3" font-weight="bold">4</text><line x1="412.1" y1="324.38" x2="417.9" y2="324.38" stroke="#000" stroke-width="1.75"/><text transform="translate(410.5,328.78) scale(0.93,1)" text-anchor="end" font-size="13.3" font-weight="bold">6</text><line x1="412.1" y1="289.14" x2="417.9" y2="289.14" stroke="#000" stroke-width="1.75"/><text transform="translate(410.5,293.54) scale(0.93,1)" text-anchor="end" font-size="13.3" font-weight="bold">8</text><line x1="412.1" y1="253.9" x2="417.9" y2="253.9" stroke="#000" stroke-width="1.75"/><text transform="translate(410.5,258.3) scale(0.93,1)" text-anchor="end" font-size="13.3" font-weight="bold">10</text><text transform="translate(388.9,342) rotate(-90) scale(1,1)" text-anchor="middle" font-size="13" font-weight="bold">WBC (x10<tspan dy="-6.6" font-size="9.5">3</tspan><tspan dy="6.6">/µL)</tspan></text></g>
<g><path d="M242.75 553.05V542.2M233.75 542.2H251.15" stroke="#000" stroke-width="2.6"/><rect x="228.38" y="553.35" width="28.15" height="152.05" fill="url(#p40)"/><path d="M228.38 705.4V553.35H256.52V705.4" fill="none" stroke="#000" stroke-width="2.6"/><line x1="242.45" y1="705.4" x2="242.45" y2="711.2" stroke="#000" stroke-width="1.75"/><text x="242.15" y="720.5" text-anchor="middle" font-size="10.7" font-weight="bold">NC</text><path d="M285.78 613.1V606.5M276.78 606.5H294.18" stroke="#000" stroke-width="2.6"/><rect x="271.41" y="613.4" width="28.15" height="92" fill="url(#p41)"/><path d="M271.41 705.4V613.4H299.56V705.4" fill="none" stroke="#000" stroke-width="2.6"/><text x="286" y="595.71" text-anchor="middle" font-size="11.2" stroke="#000" stroke-width="0.25">##</text><line x1="285.48" y1="705.4" x2="285.48" y2="711.2" stroke="#000" stroke-width="1.75"/><text x="285.2" y="720.5" text-anchor="middle" font-size="10.7" font-weight="bold">DC</text><path d="M328.81 558.55V546.7M319.81 546.7H337.21" stroke="#000" stroke-width="2.6"/><rect x="314.44" y="558.85" width="28.15" height="146.55" fill="#fff"/><path d="M314.13 562.5H342.88M314.13 566.08H342.88M314.13 569.67H342.88M314.13 573.25H342.88M314.13 576.84H342.88M314.13 580.42H342.88M314.13 584.01H342.88M314.13 587.59H342.88M314.13 591.17H342.88M314.13 594.76H342.88M314.13 598.34H342.88M314.13 601.93H342.88M314.13 605.51H342.88M314.13 609.1H342.88M314.13 612.68H342.88M314.13 616.26H342.88M314.13 619.85H342.88M314.13 623.43H342.88M314.13 627.02H342.88M314.13 630.6H342.88M314.13 634.19H342.88M314.13 637.77H342.88M314.13 641.36H342.88M314.13 644.94H342.88M314.13 648.52H342.88M314.13 652.11H342.88M314.13 655.69H342.88M314.13 659.28H342.88M314.13 662.86H342.88M314.13 666.45H342.88M314.13 670.03H342.88M314.13 673.61H342.88M314.13 677.2H342.88M314.13 680.78H342.88M314.13 684.37H342.88M314.13 687.95H342.88M314.13 691.54H342.88M314.13 695.12H342.88M314.13 698.7H342.88M314.13 702.29H342.88" stroke="#000" stroke-width="1.0" fill="none"/><path d="M314.44 705.4V558.85H342.58V705.4" fill="none" stroke="#000" stroke-width="2.6"/><text x="326.85" y="541.9" text-anchor="middle" font-size="15" font-weight="bold">*</text><line x1="328.51" y1="705.4" x2="328.51" y2="711.2" stroke="#000" stroke-width="1.75"/><text x="330.85" y="720.5" text-anchor="middle" font-size="10.7" font-weight="bold">CHY50</text><path d="M371.84 557.55V544.8M362.84 544.8H380.24" stroke="#000" stroke-width="2.6"/><rect x="357.46" y="557.85" width="28.15" height="147.55" fill="#fff"/><path d="M361.9 557.55V705.4M366.72 557.55V705.4M371.54 557.55V705.4M376.36 557.55V705.4M381.18 557.55V705.4" stroke="#000" stroke-width="1.0" fill="none"/><path d="M357.46 705.4V557.85H385.61V705.4" fill="none" stroke="#000" stroke-width="2.6"/><text x="370.7" y="539.9" text-anchor="middle" font-size="15" font-weight="bold">*</text><line x1="371.54" y1="705.4" x2="371.54" y2="711.2" stroke="#000" stroke-width="1.75"/><text x="373.95" y="720.5" text-anchor="middle" font-size="10.7" font-weight="bold">CHY75</text><path d="M414.87 556.15V543.2M405.87 543.2H423.27" stroke="#000" stroke-width="2.6"/><rect x="400.5" y="556.45" width="28.15" height="148.95" fill="#fff"/><path clip-path="url(#c44)" d="M399.19 555.15L429.94 524.4M399.19 558.56L429.94 527.81M399.19 561.97L429.94 531.22M399.19 565.38L429.94 534.63M399.19 568.79L429.94 538.04M399.19 572.19L429.94 541.44M399.19 575.6L429.94 544.85M399.19 579.01L429.94 548.26M399.19 582.42L429.94 551.67M399.19 585.83L429.94 555.08M399.19 589.24L429.94 558.49M399.19 592.65L429.94 561.9M399.19 596.06L429.94 565.31M399.19 599.47L429.94 568.72M399.19 602.88L429.94 572.13M399.19 606.28L429.94 575.53M399.19 609.69L429.94 578.94M399.19 613.1L429.94 582.35M399.19 616.51L429.94 585.76M399.19 619.92L429.94 589.17M399.19 623.33L429.94 592.58M399.19 626.74L429.94 595.99M399.19 630.15L429.94 599.4M399.19 633.56L429.94 602.81M399.19 636.97L429.94 606.22M399.19 640.38L429.94 609.63M399.19 643.78L429.94 613.03M399.19 647.19L429.94 616.44M399.19 650.6L429.94 619.85M399.19 654.01L429.94 623.26M399.19 657.42L429.94 626.67M399.19 660.83L429.94 630.08M399.19 664.24L429.94 633.49M399.19 667.65L429.94 636.9M399.19 671.06L429.94 640.31M399.19 674.47L429.94 643.72M399.19 677.87L429.94 647.12M399.19 681.28L429.94 650.53M399.19 684.69L429.94 653.94M399.19 688.1L429.94 657.35M399.19 691.51L429.94 660.76M399.19 694.92L429.94 664.17M399.19 698.33L429.94 667.58M399.19 701.74L429.94 670.99M399.19 705.15L429.94 674.4M399.19 708.56L429.94 677.81M399.19 711.96L429.94 681.21M399.19 715.37L429.94 684.62M399.19 718.78L429.94 688.03M399.19 722.19L429.94 691.44M399.19 725.6L429.94 694.85M399.19 729.01L429.94 698.26M399.19 732.42L429.94 701.67M399.19 735.83L429.94 705.08M399.19 739.24L429.94 708.49" stroke="#000" stroke-width="1.01" fill="none"/><path d="M400.5 705.4V556.45H428.64V705.4" fill="none" stroke="#000" stroke-width="2.6"/><text x="413.7" y="537.6" text-anchor="middle" font-size="15" font-weight="bold">*</text><line x1="414.57" y1="705.4" x2="414.57" y2="711.2" stroke="#000" stroke-width="1.75"/><text x="419.9" y="720.5" text-anchor="middle" font-size="10.7" font-weight="bold">CHY100</text><path d="M457.9 554.05V542M448.9 542H466.3" stroke="#000" stroke-width="2.6"/><rect x="443.53" y="554.35" width="28.15" height="151.05" fill="#fff"/><path clip-path="url(#c45)" d="M442.23 522.3L472.98 553.05M442.23 525.71L472.98 556.46M442.23 529.12L472.98 559.87M442.23 532.53L472.98 563.28M442.23 535.94L472.98 566.69M442.23 539.35L472.98 570.1M442.23 542.75L472.98 573.5M442.23 546.16L472.98 576.91M442.23 549.57L472.98 580.32M442.23 552.98L472.98 583.73M442.23 556.39L472.98 587.14M442.23 559.8L472.98 590.55M442.23 563.21L472.98 593.96M442.23 566.62L472.98 597.37M442.23 570.03L472.98 600.78M442.23 573.44L472.98 604.19M442.23 576.84L472.98 607.59M442.23 580.25L472.98 611M442.23 583.66L472.98 614.41M442.23 587.07L472.98 617.82M442.23 590.48L472.98 621.23M442.23 593.89L472.98 624.64M442.23 597.3L472.98 628.05M442.23 600.71L472.98 631.46M442.23 604.12L472.98 634.87M442.23 607.52L472.98 638.27M442.23 610.93L472.98 641.68M442.23 614.34L472.98 645.09M442.23 617.75L472.98 648.5M442.23 621.16L472.98 651.91M442.23 624.57L472.98 655.32M442.23 627.98L472.98 658.73M442.23 631.39L472.98 662.14M442.23 634.8L472.98 665.55M442.23 638.21L472.98 668.96M442.23 641.61L472.98 672.36M442.23 645.02L472.98 675.77M442.23 648.43L472.98 679.18M442.23 651.84L472.98 682.59M442.23 655.25L472.98 686M442.23 658.66L472.98 689.41M442.23 662.07L472.98 692.82M442.23 665.48L472.98 696.23M442.23 668.89L472.98 699.64M442.23 672.3L472.98 703.05M442.23 675.7L472.98 706.45M442.23 679.11L472.98 709.86M442.23 682.52L472.98 713.27M442.23 685.93L472.98 716.68M442.23 689.34L472.98 720.09M442.23 692.75L472.98 723.5M442.23 696.16L472.98 726.91M442.23 699.57L472.98 730.32M442.23 702.98L472.98 733.73M442.23 706.39L472.98 737.14" stroke="#000" stroke-width="1.01" fill="none"/><path d="M443.53 705.4V554.35H471.68V705.4" fill="none" stroke="#000" stroke-width="2.6"/><text x="456.8" y="537.2" text-anchor="middle" font-size="15" font-weight="bold">**</text><line x1="457.6" y1="705.4" x2="457.6" y2="711.2" stroke="#000" stroke-width="1.75"/><text x="462.05" y="720.5" text-anchor="middle" font-size="10.7" font-weight="bold">SLY100</text><line x1="220.8" y1="532.02" x2="220.8" y2="706.27" stroke="#000" stroke-width="1.75"/><line x1="219.93" y1="705.4" x2="479.7" y2="705.4" stroke="#000" stroke-width="1.75"/><line x1="215" y1="705.4" x2="220.8" y2="705.4" stroke="#000" stroke-width="1.75"/><text transform="translate(213.4,709.8) scale(0.93,1)" text-anchor="end" font-size="13.3" font-weight="bold">0</text><line x1="215" y1="647.9" x2="220.8" y2="647.9" stroke="#000" stroke-width="1.75"/><text transform="translate(213.4,652.3) scale(0.93,1)" text-anchor="end" font-size="13.3" font-weight="bold">100</text><line x1="215" y1="590.4" x2="220.8" y2="590.4" stroke="#000" stroke-width="1.75"/><text transform="translate(213.4,594.8) scale(0.93,1)" text-anchor="end" font-size="13.3" font-weight="bold">200</text><line x1="215" y1="532.9" x2="220.8" y2="532.9" stroke="#000" stroke-width="1.75"/><text transform="translate(213.4,537.3) scale(0.93,1)" text-anchor="end" font-size="13.3" font-weight="bold">300</text><text transform="translate(185.6,618.5) rotate(-90) scale(0.93,1)" text-anchor="middle" font-size="14" font-weight="bold">PLT (x10<tspan dy="-6.6" font-size="9.5">3</tspan><tspan dy="6.6">/µL)</tspan></text></g></svg>
</body></html>
